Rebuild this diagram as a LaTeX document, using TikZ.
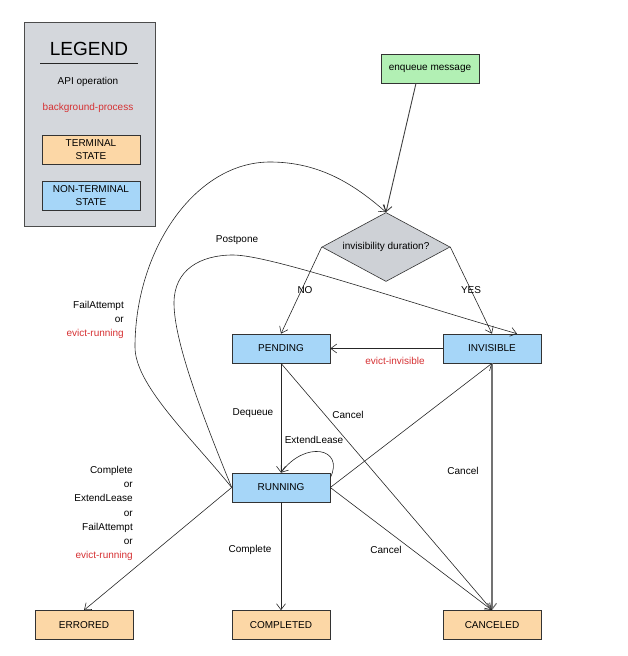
\documentclass[tikz,border=0pt]{standalone}
\usepackage{fontspec}
\setmainfont{Liberation Sans}
\usetikzlibrary{arrows.meta,shapes.geometric}
\definecolor{nblue}{RGB}{166,214,248}
\definecolor{torange}{RGB}{252,215,166}
\definecolor{egreen}{RGB}{178,240,180}
\definecolor{dgray}{RGB}{206,209,214}
\definecolor{lgray}{RGB}{212,215,220}
\definecolor{ered}{RGB}{214,50,52}
\begin{document}
\begin{tikzpicture}[x=1pt,y=-1pt,
  statebox/.style={draw=black!80, line width=0.6pt, minimum width=98pt, minimum height=29pt, inner sep=0pt, font=\fontsize{10}{12}\selectfont},
  termbox/.style={statebox, fill=torange},
  ntermbox/.style={statebox, fill=nblue},
  lbl/.style={font=\fontsize{10}{14.2}\selectfont, inner sep=0pt},
  redlbl/.style={lbl, text=ered},
  edge/.style={draw=black!85, line width=0.6pt, -{Straight Barb[length=6pt,width=9pt]}}
]
\useasboundingbox (0,0) rectangle (627,656);

% legend
\node[draw=black!70, line width=0.8pt, fill=lgray, minimum width=131pt, minimum height=204pt, inner sep=0pt] (legend) at (89.5,124) {};
\node[font=\fontsize{19}{22}\selectfont, inner sep=0pt] (legtitle) at (89,49) {LEGEND};
\coordinate (ula) at (40,63);
\coordinate (ulb) at (138,63);
\draw[black!85, line width=0.8pt] (ula) -- (ulb);
\node[lbl] (legapi) at (88,82) {API operation};
\node[redlbl] (legbg) at (88,108) {background-process};
\node[termbox, align=center, font=\fontsize{10}{13}\selectfont] (legterm) at (91,150) {TERMINAL\\STATE};
\node[ntermbox, align=center, font=\fontsize{10}{13}\selectfont] (legnterm) at (91,195.5) {NON-TERMINAL\\STATE};

% nodes
\node[statebox, fill=egreen] (enq) at (430,68.5) {enqueue message};
\node[diamond, draw=black!80, line width=0.6pt, fill=dgray, minimum width=128pt, minimum height=69pt, aspect=1.86, inner sep=0pt, font=\fontsize{10}{12}\selectfont] (dia) at (386,247) {invisibility duration?};
\node[ntermbox] (pend) at (281,348.5) {PENDING};
\node[ntermbox] (inv) at (492,348.5) {INVISIBLE};
\node[ntermbox] (run) at (281,487.5) {RUNNING};
\node[termbox] (err) at (84,625) {ERRORED};
\node[termbox] (comp) at (281,625) {COMPLETED};
\node[termbox] (canc) at (492,625) {CANCELED};

% edges
\draw[edge, line width=0.9pt, draw=black!75] ([xshift=-14pt]enq.south) -- (dia.north);
\draw[edge] (dia.west) -- (pend.north);
\draw[edge] (dia.east) -- (inv.north);
\draw[edge] (inv.west) -- (pend.east);
\draw[edge] (pend.south) -- (run.north);
\draw[edge] (pend.south) -- (canc.north);
\draw[edge, draw=black!55, line width=1.1pt] (inv.south) -- (canc.north);
\draw[edge] (run.east) -- (inv.south);
\draw[edge] (run.east) -- (canc.north);
\draw[edge] (run.south) -- (comp.north);
\draw[edge] (run.west) -- (err.north);
\draw[edge] ([yshift=-5pt]run.north east) .. controls (345,448) and (305,440) .. (run.north);
% FailAttempt / evict-running loop to decision
\draw[edge] (run.west) .. controls (190,436) and (135,385) .. (135,347)
  .. controls (135,250) and (195,162) .. (270,162)
  .. controls (320,162) and (355,185) .. (dia.north);
% Postpone
\draw[edge] (run.west) .. controls (200,410) and (174,340) .. (174,303)
  .. controls (174,270) and (200,255) .. (233,255)
  .. controls (270,255) and (400,300) .. ([xshift=25pt]inv.north);

% labels
\node[lbl] (lno) at (305,290) {NO};
\node[lbl] (lyes) at (471,290) {YES};
\node[lbl] (lpost) at (237,240) {Postpone};
\node[lbl, align=right, anchor=east] (lfail) at (124,320) {FailAttempt\\or\\\textcolor{ered}{evict-running}};
\node[redlbl] (levict) at (395,361) {evict-invisible};
\node[lbl] (ldeq) at (253,413) {Dequeue};
\node[lbl] (lcan1) at (348,415) {Cancel};
\node[lbl] (lext) at (314,440) {ExtendLease};
\node[lbl] (lcan2) at (463,471) {Cancel};
\node[lbl] (lcan3) at (386,550) {Cancel};
\node[lbl] (lcomp) at (250,550) {Complete};
\node[lbl, align=right, anchor=east] (lerr) at (133,513.5) {Complete\\or\\ExtendLease\\or\\FailAttempt\\or\\\textcolor{ered}{evict-running}};
\end{tikzpicture}
\end{document}
